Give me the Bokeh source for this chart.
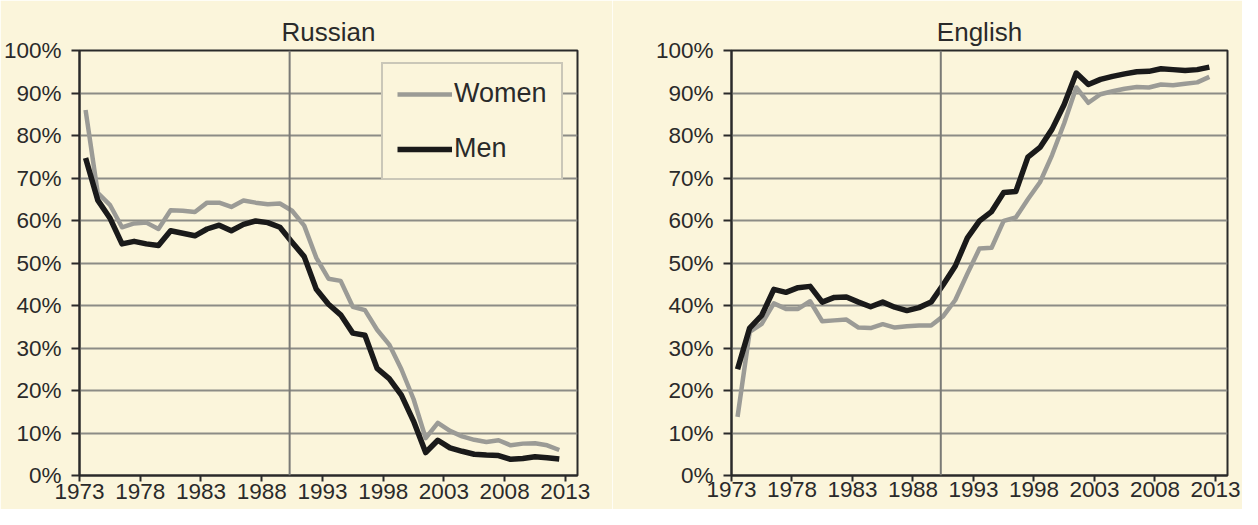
from bokeh.plotting import figure
from bokeh.layouts import row
from bokeh.models import FixedTicker, PrintfTickFormatter, Span, Legend, LegendItem, Range1d
from bokeh.embed import file_html
from bokeh.resources import INLINE

# ---------------- data (percent) ----------------
years = list(range(1973, 2013))

ru_women = [86.0, 66.5, 63.7, 58.4, 59.3, 59.5, 58.0, 62.4, 62.3, 62.0,
            64.2, 64.2, 63.2, 64.7, 64.2, 63.8, 64.0, 62.3, 58.8, 51.2,
            46.3, 45.8, 39.7, 38.9, 34.3, 30.8, 25.0, 18.0, 8.8, 12.4,
            10.5, 9.2, 8.4, 7.9, 8.3, 7.1, 7.5, 7.6, 7.1, 6.0]
ru_men = [74.7, 64.8, 60.6, 54.5, 55.1, 54.5, 54.1, 57.6, 57.0, 56.4,
          58.0, 58.9, 57.6, 59.1, 59.9, 59.5, 58.4, 54.9, 51.5, 43.8,
          40.3, 37.8, 33.5, 33.0, 25.2, 22.8, 18.9, 12.8, 5.4, 8.3,
          6.5, 5.7, 5.0, 4.8, 4.7, 3.8, 4.0, 4.4, 4.2, 3.9]

en_women = [13.8, 33.8, 35.7, 40.5, 39.2, 39.2, 41.0, 36.3, 36.5, 36.7,
            34.8, 34.7, 35.6, 34.8, 35.1, 35.3, 35.3, 37.5, 41.3, 47.5,
            53.4, 53.6, 59.9, 60.7, 65.0, 69.0, 75.4, 82.9, 91.3, 87.7,
            89.7, 90.4, 91.0, 91.4, 91.3, 92.0, 91.8, 92.2, 92.5, 93.8]
en_men = [25.0, 34.7, 37.7, 43.8, 43.1, 44.2, 44.5, 40.8, 41.9, 42.0,
          40.8, 39.7, 40.8, 39.6, 38.8, 39.5, 40.8, 44.9, 49.3, 55.9,
          59.9, 62.1, 66.6, 66.8, 74.9, 77.2, 81.5, 87.3, 94.7, 92.0,
          93.2, 93.9, 94.5, 95.0, 95.1, 95.7, 95.5, 95.3, 95.5, 96.1]

x_ticks = [1973, 1978, 1983, 1988, 1993, 1998, 2003, 2008, 2013]
y_ticks = [0, 10, 20, 30, 40, 50, 60, 70, 80, 90, 100]
reform_year = 1990.3
series_labels = ["Women", "Men"]
titles = ["Russian", "English"]

# ---------------- style ----------------
BG = "#FBF5DB"
FONT = "Liberation Sans"
DARK = "#2a2a2a"
WOMEN_COLOR = "#9b9b96"
MEN_COLOR = "#1a1a1a"
GRID_COLOR = "#8c8c86"


def make_fig(title, women, men, width, mb_left, mb_right, mb_top, mb_bottom, x_standoff, with_legend):
    p = figure(width=width, height=509, x_range=Range1d(1973, 2014), y_range=Range1d(0, 100),
               output_backend="svg", toolbar_location=None,
               min_border_left=mb_left, min_border_right=mb_right,
               min_border_top=mb_top, min_border_bottom=mb_bottom)
    p.background_fill_color = BG
    p.border_fill_color = BG
    p.outline_line_color = DARK
    p.outline_line_width = 2

    p.title.text = title
    p.title.align = "center"
    p.title.text_font = FONT
    p.title.text_font_size = "26px"
    p.title.text_font_style = "normal"
    p.title.text_color = DARK
    p.title.standoff = 8

    p.xgrid.visible = False
    p.ygrid.ticker = FixedTicker(ticks=y_ticks)
    p.ygrid.grid_line_color = GRID_COLOR
    p.ygrid.grid_line_width = 2

    p.xaxis.ticker = FixedTicker(ticks=x_ticks, minor_ticks=[])
    p.yaxis.ticker = FixedTicker(ticks=y_ticks, minor_ticks=[])
    p.yaxis.formatter = PrintfTickFormatter(format="%d%%")
    for ax in (p.xaxis, p.yaxis):
        ax.axis_line_color = DARK
        ax.axis_line_width = 2
        ax.major_tick_line_color = DARK
        ax.major_tick_line_width = 2
        ax.major_tick_in = 0
        ax.minor_tick_line_color = None
        ax.major_label_text_font = FONT
        ax.major_label_text_color = DARK
    p.xaxis.major_tick_out = 6
    p.xaxis.major_label_standoff = x_standoff
    p.xaxis.major_label_text_font_size = "22.5px"
    p.yaxis.major_tick_out = 8
    p.yaxis.major_label_standoff = 10
    p.yaxis.major_label_text_font_size = "22.5px"

    p.add_layout(Span(location=reform_year, dimension="height", line_color="#7a7a76", line_width=2))

    xs = [y + 0.5 for y in years]
    rw = p.line(xs, women, line_color=WOMEN_COLOR, line_width=4.5, line_join="round")
    rm = p.line(xs, men, line_color=MEN_COLOR, line_width=5.5, line_join="round")

    if with_legend:
        leg = Legend(items=[LegendItem(label=series_labels[0], renderers=[rw]),
                            LegendItem(label=series_labels[1], renderers=[rm])],
                     location=(302, 295), margin=0, padding=14, spacing=24,
                     glyph_width=55, glyph_height=30, label_height=30, label_standoff=2,
                     label_text_font=FONT, label_text_font_size="27px", label_text_color=DARK,
                     border_line_color="#9a9a96", border_line_width=2,
                     background_fill_color=BG, background_fill_alpha=1.0)
        p.add_layout(leg)
    return p


p1 = make_fig(titles[0], ru_women, ru_men, 612, 78, 35, 46, 34, 2, True)
p2 = make_fig(titles[1], en_women, en_men, 630, 119, 15, 50, 28, 0, False)

layout = row(p1, p2)
open("out.html", "w").write(file_html(layout, INLINE))
